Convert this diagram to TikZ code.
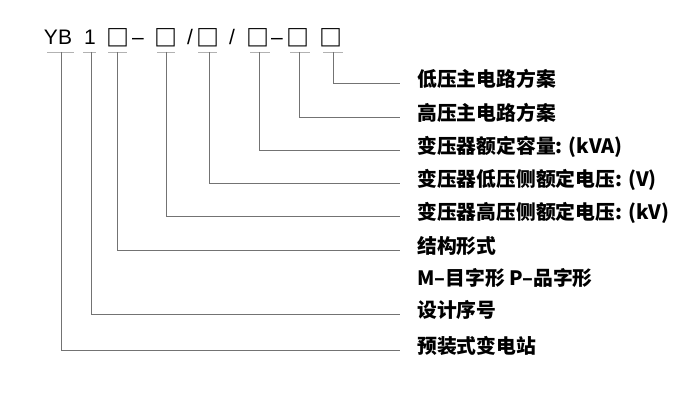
\documentclass[tikz,border=0pt]{standalone}
\usepackage{fontspec}
\setmainfont{Liberation Sans}
\newfontfamily\cjk{Noto Sans CJK SC}
\begin{document}
\begin{tikzpicture}[x=1pt, y=-1pt,
    code/.style={anchor=base, inner sep=0pt, font=\fontsize{21}{24}\selectfont},
    slot/.style={anchor=base, inner sep=0pt, font=\cjk\bfseries\fontsize{23}{26}\selectfont},
    tick/.style={draw=black!30, line width=0.9pt},
    conn/.style={draw=black!55, line width=0.9pt},
    lbl/.style={anchor=west, inner xsep=17pt, inner ysep=0pt, text height=0.88em,
                text depth=0.12em, font=\cjk\bfseries\fontsize{19.8}{24}\selectfont}
]
\useasboundingbox (0,0) rectangle (676,403);

% type code
\node[code] (yb) at (58,45)  {YB};
\node[code] (d1) at (90,45)  {1};
\node[slot] (s1) at (118,47) {□};
\node[code] (h1) at (138,45) {–};
\node[slot] (s2) at (166,47) {□};
\node[code] (k1) at (190,45) {/};
\node[slot] (s3) at (208,47) {□};
\node[code] (k2) at (232,45) {/};
\node[slot] (s4) at (258,47) {□};
\node[code] (h2) at (277,45) {–};
\node[slot] (s5) at (298,47) {□};
\node[slot] (s6) at (331,47) {□};

% underlines
\draw[tick] (47,52) -- (74,52);
\draw[tick] (83,52) -- (96,52);
\draw[tick] (108,52) -- (127,52);
\draw[tick] (157,52) -- (175,52);
\draw[tick] (198,52) -- (217,52);
\draw[tick] (250,52) -- (270,52);
\draw[tick] (290,52) -- (310,52);
\draw[tick] (323,52) -- (343,52);

\coordinate (t1) at (61,52);
\coordinate (t2) at (91,52);
\coordinate (t3) at (117,52);
\coordinate (t4) at (166,52);
\coordinate (t5) at (209,52);
\coordinate (t6) at (259,52);
\coordinate (t7) at (299,52);
\coordinate (t8) at (333,52);

% meanings
\node[lbl] (lv)  at (400,83)  {低压主电路方案};
\node[lbl] (hv)  at (400,117) {高压主电路方案};
\node[lbl] (cap) at (400,150) {变压器额定容量: (kVA)};
\node[lbl] (ulv) at (400,183) {变压器低压侧额定电压: (V)};
\node[lbl] (uhv) at (400,216) {变压器高压侧额定电压: (kV)};
\node[lbl] (st)  at (400,250) {结构形式};
\node[lbl] (mp)  at (400,282) {M–目字形 P–品字形};
\node[lbl] (no)  at (400,314) {设计序号};
\node[lbl] (ybs) at (400,350) {预装式变电站};

\draw[conn] (t8) |- (lv.west);
\draw[conn] (t7) |- (hv.west);
\draw[conn] (t6) |- (cap.west);
\draw[conn] (t5) |- (ulv.west);
\draw[conn] (t4) |- (uhv.west);
\draw[conn] (t3) |- (st.west);
\draw[conn] (t2) |- (no.west);
\draw[conn] (t1) |- (ybs.west);

\end{tikzpicture}
\end{document}
